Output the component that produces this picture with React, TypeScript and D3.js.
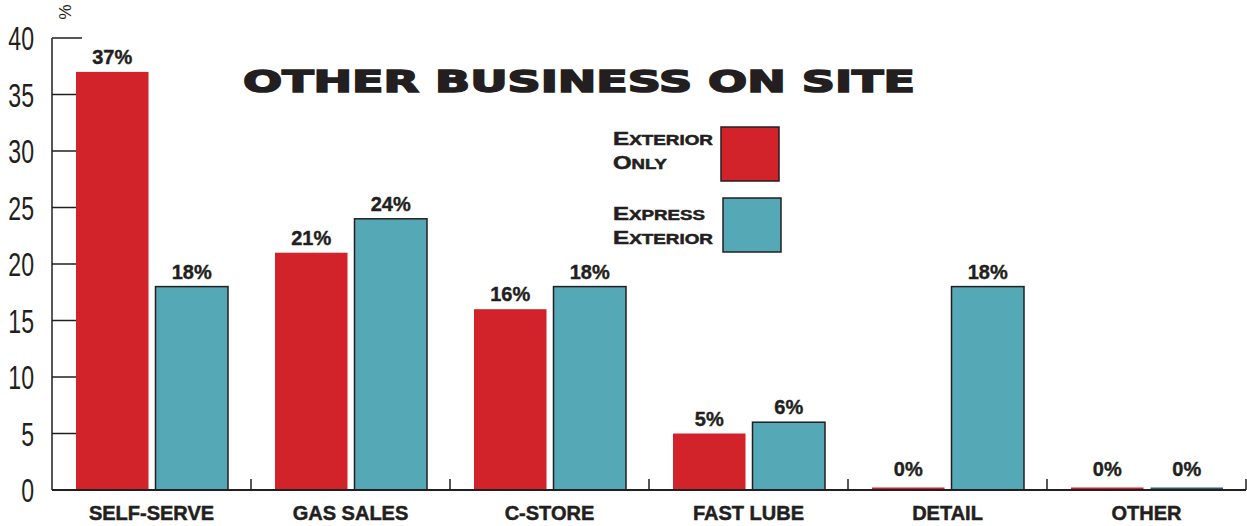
import React from 'react';
import * as d3 from 'd3';

// chart data
const categories = ['SELF-SERVE', 'GAS SALES', 'C-STORE', 'FAST LUBE', 'DETAIL', 'OTHER'];
const exteriorOnly = [37, 21, 16, 5, 0, 0];
const expressExterior = [18, 24, 18, 6, 18, 0];
const yTicks = [0, 5, 10, 15, 20, 25, 30, 35, 40];

const RED = '#d2232a';
const TEAL = '#55a8b6';
const INK = '#231f20';

const W = 1247, H = 526;

export default function App() {
  const x = d3.scaleBand<string>().domain(categories).range([52, 1246]).padding(0);
  const inner = d3.scaleBand<string>().domain(['ext', 'exp']).range([24, 176]).paddingInner(0.088).paddingOuter(0);
  const y = d3.scaleLinear().domain([0, 40]).range([490, 38]);

  const series = [
    { key: 'ext', values: exteriorOnly, color: RED, stroke: 'none' },
    { key: 'exp', values: expressExterior, color: TEAL, stroke: INK },
  ];

  const sans = '"Liberation Sans", Arial, sans-serif';

  // small-caps legend label
  const capLabel = (word: string, lx: number, ly: number, len: number) => (
    <text x={lx} y={ly} fontFamily={sans} fontWeight="bold" fill={INK} stroke={INK} strokeWidth={0.5}
      textLength={len} lengthAdjust="spacingAndGlyphs">
      <tspan fontSize={18}>{word[0]}</tspan><tspan fontSize={14}>{word.slice(1)}</tspan>
    </text>
  );

  return (
    <svg width={W} height={H} style={{ position: 'absolute', left: 0, top: 0, display: 'block' }}>
      <rect width={W} height={H} fill="#fff" />

      {/* y axis */}
      <line x1={52} x2={52} y1={y(40)} y2={y(0)} stroke={INK} strokeWidth={1.5} />
      {yTicks.map(t => (
        <g key={t}>
          {t > 0 && <line x1={52} x2={82} y1={y(t)} y2={y(t)} stroke={INK} strokeWidth={1.5} />}
          <text transform={`translate(34,${y(t) + 12}) scale(0.68,1)`} textAnchor="end"
            fontFamily={sans} fontSize={34} fill={INK}>{t}</text>
        </g>
      ))}
      <text transform={`translate(59,12) rotate(90)`} fontFamily={sans} fontSize={17} fill={INK} textAnchor="middle">%</text>

      {/* bars */}
      {series.map(s => (
        <g key={s.key}>
          {categories.map((c, i) => {
            const v = s.values[i];
            const bx = (x(c) as number) + (inner(s.key) as number);
            const bw = inner.bandwidth();
            if (v === 0) {
              return (
                <g key={c}>
                  <rect x={bx} y={y(0) - 2.5} width={bw} height={2.5} fill={s.key === 'exp' ? '#2e5f66' : RED} />
                  <text x={bx + bw / 2} y={y(0) - 14} textAnchor="middle" fontFamily={sans} fontWeight="bold"
                    fontSize={20} fill={INK} stroke={INK} strokeWidth={0.4}>0%</text>
                </g>
              );
            }
            return (
              <g key={c}>
                <rect x={bx} y={y(v)} width={bw} height={y(0) - y(v)} fill={s.color}
                  stroke={s.stroke} strokeWidth={s.stroke === 'none' ? 0 : 1.5} />
                <text x={bx + bw / 2} y={y(v) - 8} textAnchor="middle" fontFamily={sans} fontWeight="bold"
                  fontSize={20} fill={INK} stroke={INK} strokeWidth={0.4}>{v}%</text>
              </g>
            );
          })}
        </g>
      ))}

      {/* x axis */}
      <line x1={52} x2={1246} y1={y(0)} y2={y(0)} stroke={INK} strokeWidth={2} />
      {categories.map(c => (
        <g key={c}>
          <line x1={(x(c) as number) + x.bandwidth()} x2={(x(c) as number) + x.bandwidth()} y1={y(0)} y2={y(0) - 11} stroke={INK} strokeWidth={1.5} />
          <text x={(x(c) as number) + x.bandwidth() / 2} y={520} textAnchor="middle" fontFamily={sans} fontWeight="bold"
            fontSize={20} fill={INK} stroke={INK} strokeWidth={0.5}>{c}</text>
        </g>
      ))}

      {/* title */}
      <text x={243} y={92} textLength={672} lengthAdjust="spacingAndGlyphs" fontFamily='"DejaVu Sans", sans-serif'
        fontWeight="bold" fontSize={30} fill={INK} stroke={INK} strokeWidth={1.6}>OTHER BUSINESS ON SITE</text>

      {/* legend */}
      {capLabel('EXTERIOR', 613, 145, 100)}
      {capLabel('ONLY', 613, 169, 54)}
      <rect x={721} y={127} width={58} height={54} fill={RED} stroke={INK} strokeWidth={1.5} />
      {capLabel('EXPRESS', 613, 220, 92)}
      {capLabel('EXTERIOR', 613, 244, 100)}
      <rect x={723} y={198} width={58} height={54} fill={TEAL} stroke={INK} strokeWidth={1.5} />
    </svg>
  );
}
